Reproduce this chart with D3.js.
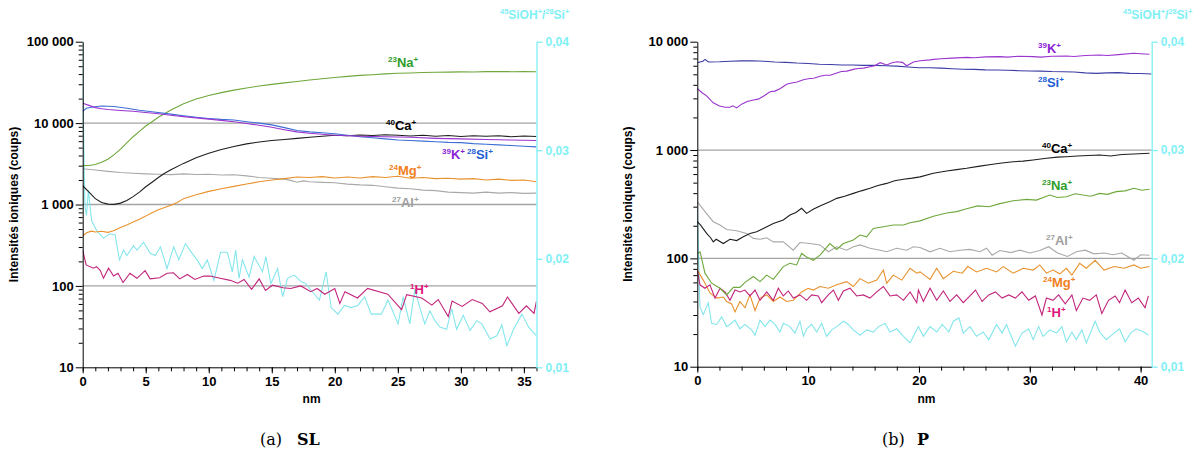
<!DOCTYPE html>
<html><head><meta charset="utf-8">
<script src="https://cdn.jsdelivr.net/npm/d3@7"></script>
<style>body{margin:0;background:#fff}svg{display:block}</style>
</head><body><svg id="c" width="1203" height="450" font-family="Liberation Sans, Arial, sans-serif"></svg>
<script>
// ---------- DATA : (a) SL ----------
const slNa = [[0,3000],[0.5,3020],[1,3100],[1.5,3300],[2,3600],[2.5,4100],[3,4800],[3.5,5700],[4,6800],[4.5,7900],[5,9200],[5.5,10400],[6,11800],[7,14500],[8,17300],[9,19800],[10,21800],[11,23700],[12,25400],[13,27000],[14,28600],[15,29900],[16,31200],[17,32500],[18,33800],[19,35000],[20,36300],[21,37500],[22,38600],[23,39300],[24,40200],[25,40900],[26,41300],[27,41800],[28,42100],[29,42300],[30,42600],[31,42500],[32,42900],[33,43100],[34,42800],[35,43000],[36,42800]];
const slCa = [[0,1700],[0.5,1420],[1,1180],[1.5,1060],[2,1010],[2.5,1005],[3,1040],[3.5,1120],[4,1250],[4.5,1420],[5,1650],[5.5,1880],[6,2150],[6.5,2420],[7,2680],[8,3200],[9,3750],[10,4250],[11,4750],[12,5150],[13,5550],[14,5850],[15,6100],[16,6300],[17,6500],[18,6700],[19,6900],[20,7100],[21,7000],[22,7150],[23,7050],[24,7200],[25,7100],[26,6950],[27,7100],[28,6900],[29,7050],[30,6850],[31,7000],[32,6900],[33,7000],[34,6800],[35,6950],[36,6850]];
const slK = [[0,17500],[0.5,16500],[1,15500],[1.5,15000],[2,14700],[3,14300],[4,14000],[5,13500],[6,13000],[7,12500],[8,12000],[9,11600],[10,11200],[11,10800],[12,10400],[13,9900],[14,9400],[15,8900],[16,8300],[17,7800],[18,7500],[19,7300],[20,7100],[22,6900],[24,6800],[26,6700],[28,6500],[30,6400],[32,6300],[34,6200],[36,6100]];
const slSi = [[0,14000],[0.3,15200],[0.8,15800],[1.5,16200],[2.5,16000],[3.5,15200],[4.5,14400],[5.5,13800],[7,12900],[8,12300],[9,11800],[10,11400],[11,11100],[12,10900],[13,10400],[14,10000],[15,9500],[16,8800],[17,8100],[18,7800],[19,7600],[20,7400],[21,7100],[22,6800],[23,6600],[24,6400],[25,6200],[26,6100],[27,6000],[28,5900],[29,5800],[30,5750],[31,5600],[32,5500],[33,5400],[34,5300],[35,5200],[36,5100]];
const slMg = [[0,410],[0.3,450],[0.7,470],[1,460],[1.5,470],[2,455],[2.5,480],[3,520],[3.5,560],[4,610],[4.5,660],[5,720],[5.5,790],[6,860],[6.5,920],[7,980],[7.5,1060],[8,1180],[9,1320],[10,1450],[11,1560],[12,1670],[13,1790],[14,1900],[15,2000],[16,2080],[17,2180],[18,2150],[19,2200],[20,2120],[21,2180],[22,2120],[23,2200],[24,2150],[25,2220],[26,2100],[27,2150],[28,2080],[29,2100],[30,2050],[31,2080],[32,2000],[33,2050],[34,1980],[35,2000],[36,1900]];
const slAl = [[0,2750],[1,2650],[2,2550],[3,2470],[4,2420],[5,2380],[6,2350],[7,2330],[8,2380],[9,2340],[10,2350],[11,2300],[12,2320],[13,2250],[14,2150],[15,2100],[16,2050],[16.5,1980],[17,1880],[17.5,1950],[18,1900],[19,1870],[20,1850],[21,1780],[22,1740],[23,1720],[24,1650],[25,1590],[26,1560],[27,1500],[28,1480],[29,1420],[30,1400],[31,1380],[32,1420],[33,1380],[34,1400],[35,1370],[36,1380]];
const slH = [[0,275],[0.27,181],[0.85,165],[1.1,172],[1.4,154],[1.65,124],[2.05,165],[2.45,132],[2.8,143],[3.2,110],[3.75,143],[4.3,124],[4.95,154],[5.35,122],[6.1,126],[6.7,143],[7.2,145],[7.7,122],[8.3,138],[8.9,120],[9.6,132],[10.1,132],[10.9,124],[11.7,117],[12.3,108],[12.8,120],[13.4,91],[14,122],[14.5,88],[15.05,102],[15.9,95],[16.5,93],[17.3,100],[18.1,85],[18.6,93],[19.2,79],[20.0,93],[20.4,61],[20.8,85],[21.8,71],[22.6,93],[24.2,79],[25.3,51],[25.7,78],[26.9,71],[27.7,58],[28.2,68],[29.0,42],[29.3,65],[30.1,56],[30.9,68],[31.7,61],[32.3,48],[33.3,57],[33.7,73],[34.6,46],[35.2,57],[35.8,46],[36.0,65]];
const slRatio = [[0,0.0400],[0.05,0.0330],[0.18,0.0248],[0.3,0.0240],[0.45,0.0263],[0.71,0.0235],[1.11,0.0226],[1.64,0.0219],[2.17,0.0223],[2.57,0.0222],[2.92,0.0199],[3.24,0.0208],[3.5,0.0203],[4.03,0.0212],[4.3,0.0208],[4.83,0.0215],[5.36,0.0205],[5.76,0.0203],[6.16,0.0211],[6.69,0.0191],[7.22,0.0211],[7.62,0.0199],[8.15,0.0214],[8.68,0.0205],[9.08,0.0199],[9.48,0.0191],[9.88,0.0199],[10.41,0.0180],[10.94,0.0206],[11.47,0.0206],[11.87,0.0188],[12.14,0.0208],[12.4,0.0182],[12.67,0.0199],[13.2,0.0183],[13.6,0.0202],[14.26,0.0188],[14.53,0.0202],[14.93,0.0177],[15.46,0.0191],[15.86,0.0165],[16.25,0.0182],[16.78,0.0185],[17.32,0.0179],[17.71,0.0177],[18.11,0.0171],[18.78,0.0162],[19.31,0.0188],[19.71,0.0155],[20.24,0.0149],[20.77,0.0157],[21.3,0.0155],[21.83,0.0157],[22.36,0.0165],[22.89,0.0149],[23.69,0.0149],[24.22,0.0162],[25.02,0.0140],[25.42,0.0165],[25.95,0.0140],[26.35,0.0172],[26.74,0.0155],[27.14,0.0140],[27.54,0.0152],[27.94,0.0143],[28.34,0.0137],[28.87,0.0135],[29.27,0.0154],[29.66,0.0135],[30.19,0.0148],[30.73,0.0134],[31.26,0.0143],[31.66,0.0140],[32.32,0.0126],[32.85,0.0129],[33.25,0.0139],[33.65,0.0120],[34.18,0.0135],[34.84,0.0149],[35.38,0.0137],[36.0,0.0129]];

// ---------- DATA : (b) P ----------
const pSi = [[0,6400],[0.5,6600],[0.7,6870],[1,6500],[2,6530],[3,6600],[4,6650],[5,6680],[6,6600],[7,6500],[8,6450],[9,6350],[10,6300],[11,6190],[12,6150],[13,6100],[14,6100],[15,6050],[16,6050],[17,6000],[18,5950],[19,5850],[20,5750],[21,5750],[22,5700],[23,5620],[24,5560],[25,5550],[26,5500],[27,5480],[28,5450],[29,5400],[30,5360],[31,5350],[32,5300],[33,5280],[34,5250],[35,5150],[36,5100],[37,5150],[38,5180],[39,5100],[40,5080],[41,5030]];
const pK = [[0,3700],[0.4,3400],[0.84,3160],[1.44,2730],[2,2550],[2.5,2480],[2.95,2480],[3.2,2560],[3.55,2450],[4,2650],[4.5,2800],[5.06,2900],[5.5,2950],[6,3150],[6.56,3450],[7,3500],[7.5,3700],[8.06,4050],[8.5,4150],[9,4250],[9.57,4450],[10,4550],[10.5,4600],[11.07,4800],[11.5,4900],[12,4900],[12.58,5150],[13,5300],[13.5,5350],[14.08,5550],[14.5,5650],[15,5700],[15.58,5880],[16,6000],[16.5,6400],[17.09,6100],[17.5,6350],[18,6530],[18.5,6450],[18.9,6000],[19.5,6500],[20.1,6680],[21,6800],[21.3,6870],[22,6950],[23,7050],[24.3,7170],[25,7100],[26,7250],[27.3,7280],[28,7200],[29,7350],[30.3,7280],[31,7200],[32,7350],[33.3,7380],[34,7300],[35,7450],[36.3,7540],[37,7450],[38,7600],[39.4,7820],[40,7750],[40.8,7650]];
const pCa = [[0,218],[0.3,203],[0.84,170],[1.2,155],[1.44,142],[1.7,150],[2.35,137],[2.95,150],[3.55,146],[4.15,158],[4.75,170],[5.36,176],[5.96,189],[6.86,210],[7.76,226],[8.36,251],[8.9,265],[9.41,290],[9.86,260],[10.5,285],[11.07,305],[12,335],[12.58,358],[13.3,375],[14.08,398],[14.8,420],[15.58,443],[16.3,470],[17.09,492],[17.8,520],[18.6,537],[19.4,550],[20.1,565],[21.3,610],[22.5,640],[23.4,660],[24.3,678],[25.5,710],[26.5,735],[27.3,754],[28.5,780],[29.4,790],[30.3,809],[31.5,840],[32.5,860],[33.3,867],[34.3,880],[35.3,890],[36.3,900],[37.3,880],[38.3,910],[39.4,918],[40.8,935]];
const pNa = [[0,111],[0.25,115],[0.69,73],[1.29,59],[2.05,53],[2.65,46],[3.25,54],[3.85,54],[4.3,60],[5.06,68],[5.66,61],[6.26,70],[6.86,64],[7.76,84],[8.36,90],[8.96,87],[9.41,111],[9.86,103],[10.47,96],[11.07,107],[11.97,137],[12.58,121],[13.18,137],[14.08,148],[14.68,164],[15.28,158],[15.88,189],[16.79,196],[17.69,203],[18.6,203],[19.2,213],[20.1,222],[21.3,245],[22.5,262],[23.4,270],[24.3,287],[25.3,305],[26.3,300],[27.3,320],[28.5,340],[29.7,350],[30.6,345],[31.8,384],[32.5,365],[33.3,370],[34.1,395],[34.8,384],[35.5,375],[36.3,398],[37.0,390],[37.8,413],[38.6,420],[39.4,443],[40.1,425],[40.8,435]];
const pAl = [[0,333],[0.35,300],[0.84,259],[1.44,218],[2.05,203],[2.65,185],[3.55,180],[4.45,170],[5.06,153],[5.66,150],[6.26,155],[6.86,142],[7.76,142],[8.66,119],[9.26,140],[10.17,137],[11.07,133],[11.82,115],[12.58,128],[13.48,119],[14.08,128],[14.68,133],[15.58,124],[16.49,119],[17.09,115],[17.99,124],[18.9,119],[19.5,128],[20.1,126],[21,115],[21.9,124],[22.8,115],[23.7,119],[24.6,121],[25.5,115],[26.1,124],[26.6,107],[27.3,118],[28.3,113],[29.1,119],[30.0,112],[30.9,118],[31.7,128],[32.5,112],[33.4,104],[34.2,115],[35.0,119],[35.8,110],[36.7,112],[37.5,108],[38.3,112],[39.4,96],[40.0,108],[40.8,107]];
const pMg = [[0,78],[0.54,63],[1.14,48],[1.74,43],[2.35,44],[2.65,40],[3.1,38],[3.4,32],[3.85,40],[4.3,35],[4.75,46],[5.21,33],[5.66,43],[6.26,46],[6.86,40],[7.46,44],[8.06,40],[8.66,41],[9.41,49],[10.0,53],[10.47,51],[11.07,55],[11.82,53],[12.58,57],[13.48,61],[14.08,55],[14.68,65],[15.43,59],[16.19,63],[16.79,78],[17.09,59],[17.69,70],[18.45,63],[19.2,81],[19.8,73],[20.1,75],[21.0,64],[21.6,81],[22.2,65],[23.1,76],[23.9,73],[24.4,84],[25.2,75],[26.1,81],[27.0,75],[27.6,84],[28.5,73],[29.4,81],[30.3,78],[30.9,87],[31.5,73],[32.1,78],[32.7,72],[33.3,81],[33.8,70],[34.5,90],[35.1,81],[35.9,96],[36.7,78],[37.6,84],[38.5,81],[39.4,87],[40.0,81],[40.8,84]];
const pH = [[0,78],[0.24,57],[0.69,53],[1.14,57],[1.6,43],[2.05,53],[2.5,49],[2.95,41],[3.4,51],[3.85,49],[4.3,51],[4.75,45],[5.21,51],[5.66,41],[6.26,49],[6.86,41],[7.31,53],[7.76,45],[8.21,50],[8.66,43],[9.26,46],[9.87,41],[10.32,46],[10.92,45],[11.22,39],[11.82,46],[12.28,51],[12.73,41],[13.18,50],[13.78,53],[14.38,45],[14.98,46],[15.58,43],[16.19,49],[16.79,55],[17.39,45],[17.99,46],[18.6,41],[19.2,49],[19.8,39],[19.95,51],[20.4,40],[21.0,53],[21.6,41],[22.2,50],[22.8,40],[23.4,46],[24.0,39],[24.6,45],[25.1,51],[25.7,40],[26.3,46],[26.9,49],[27.5,43],[28.1,46],[28.7,43],[29.3,49],[29.9,41],[30.5,45],[31.1,30],[31.5,43],[32.1,41],[32.6,46],[33.2,38],[33.8,46],[34.2,33],[34.8,43],[35.4,41],[36.0,46],[36.5,31],[37.1,41],[37.7,45],[38.1,39],[38.6,51],[39.2,39],[39.8,43],[40.4,35],[40.7,45]];
const pRatio = [[0,0.0249],[0.24,0.0155],[0.54,0.0148],[0.99,0.0159],[1.29,0.0140],[1.74,0.0139],[2.2,0.0146],[2.65,0.0137],[2.95,0.0139],[3.4,0.0143],[3.85,0.0135],[4.3,0.0139],[4.9,0.0134],[5.21,0.0129],[5.66,0.0143],[6.11,0.0137],[6.56,0.0143],[7.01,0.0139],[7.46,0.0132],[7.76,0.0140],[8.36,0.0137],[8.81,0.0131],[9.26,0.0142],[9.57,0.0128],[9.87,0.0135],[10.32,0.0139],[10.77,0.0132],[11.22,0.0140],[11.67,0.0128],[12.13,0.0134],[12.58,0.0137],[13.18,0.0142],[13.63,0.0139],[14.08,0.0134],[14.68,0.0129],[15.28,0.0134],[15.88,0.0132],[16.34,0.0137],[16.94,0.0140],[17.39,0.0132],[17.99,0.0135],[18.6,0.0128],[19.2,0.0122],[19.65,0.0131],[19.95,0.0137],[20.4,0.0128],[21.0,0.0137],[21.6,0.0132],[22.1,0.0139],[22.7,0.0132],[23.1,0.0142],[23.6,0.0145],[24.0,0.0131],[24.6,0.0137],[25.2,0.0128],[25.8,0.0132],[26.3,0.0125],[27.0,0.0139],[27.5,0.0131],[27.9,0.0139],[28.7,0.0119],[29.3,0.0131],[29.9,0.0135],[30.3,0.0125],[30.8,0.0137],[31.2,0.0128],[31.8,0.0134],[32.4,0.0131],[32.9,0.0137],[33.3,0.0123],[33.8,0.0132],[34.2,0.0125],[34.7,0.0134],[35.1,0.0122],[35.9,0.0142],[36.3,0.0132],[36.9,0.0125],[37.6,0.0131],[38.1,0.0135],[38.6,0.0123],[39.1,0.0131],[39.6,0.0135],[40.3,0.0132],[40.7,0.0129]];

// ---------- TICKS ----------
const slYTicks = [10,100,1000,10000,100000];
const pYTicks = [10,100,1000,10000];
const slXTicks = [0,5,10,15,20,25,30,35];
const pXTicks = [0,10,20,30,40];
const ratioTicks = [0.01,0.02,0.03,0.04];
const yTitle = "Intensités ioniques (coups)";

const C = {Na:"#6fa83c",Ca:"#1e1e1e",K:"#9a35cf",Si:"#3d6fd6",Si2:"#3c3ca6",Mg:"#e8922e",Al:"#a9a9a9",H:"#c2257c",R:"#84e6ec"};
const L = {Na:"#2f9e2a",Ca:"#000",K:"#8a1fd6",Si:"#1f5fd6",Mg:"#f07f1c",Al:"#a0a0a0",H:"#e0157c",R:"#7ff0f5"};
const SANS = "Liberation Sans, Arial, sans-serif";
const SERIF = "DejaVu Serif, Liberation Serif, serif";

const svg = d3.select("#c");
svg.append("rect").attr("width",1203).attr("height",450).attr("fill","#fff");

function supText(g,x,y,parts,color,size,anchor){
  const t=g.append("text").attr("x",x).attr("y",y).attr("fill",color).attr("font-weight","bold").attr("font-size",size).attr("font-family",SANS).attr("text-anchor",anchor||"start");
  let shifted=false;
  parts.forEach(([s,sup])=>{
    const ts=t.append("tspan").text(s);
    if(sup){ts.attr("font-size",size*0.62); if(!shifted){ts.attr("dy",-size*0.4);shifted=true;}}
    else { if(shifted){ts.attr("dy",size*0.4);shifted=false;} }
  });
  return t;
}
const fmtInt = v => d3.format(",")(v).replace(/,/g," ");
const fmtRatio = v => d3.format(".2f")(v).replace(".",",");

function drawChart(cfg, id){
  const g = svg.append("g");
  const x = d3.scaleLinear().domain([0,cfg.xMax]).range([cfg.l,cfg.r]);
  const y = d3.scaleLog().domain([cfg.yTicks[0],cfg.yTicks[cfg.yTicks.length-1]]).range([cfg.b,cfg.t]);
  const y2 = d3.scaleLinear().domain([0.01,0.04]).range([cfg.b,cfg.t]);
  g.append("clipPath").attr("id",id).append("rect").attr("x",cfg.l).attr("y",cfg.t-1).attr("width",cfg.r-cfg.l).attr("height",cfg.b-cfg.t+1);
  cfg.grid.forEach(v=>g.append("line").attr("x1",cfg.l).attr("x2",cfg.r).attr("y1",y(v)).attr("y2",y(v)).attr("stroke","#a3a3a3").attr("stroke-width",1.3));
  const lines = g.append("g").attr("clip-path",`url(#${id})`);
  const ln = d3.line().x(d=>x(d[0])).y(d=>y(d[1]));
  const ln2 = d3.line().x(d=>x(d[0])).y(d=>y2(d[1]));
  lines.append("path").attr("d",ln2(cfg.ratio)).attr("fill","none").attr("stroke",C.R).attr("stroke-width",1.1);
  cfg.series.forEach(s=>lines.append("path").attr("d",ln(s.data)).attr("fill","none").attr("stroke",s.color).attr("stroke-width",1.1));
  const minorY=[]; for(let d=cfg.yTicks[0]; d<cfg.yTicks[cfg.yTicks.length-1]; d*=10) for(let k=2;k<10;k++) minorY.push(d*k);
  const ax = (sel)=>sel.attr("font-family",SANS).selectAll("text").attr("font-weight","bold");
  g.append("g").attr("transform",`translate(${cfg.l},0)`).call(d3.axisLeft(y).tickValues(minorY).tickSize(4).tickSizeOuter(0).tickFormat("")).call(s=>s.select(".domain").remove());
  g.append("g").attr("transform",`translate(${cfg.l},0)`).call(d3.axisLeft(y).tickValues(cfg.yTicks).tickSize(7).tickSizeOuter(0).tickPadding(2).tickFormat(fmtInt)).attr("font-size",13).call(ax);
  const minorX=[]; for(let v=0; v<=cfg.xMax+1e-9; v+=cfg.xMinor) minorX.push(v);
  g.append("g").attr("transform",`translate(0,${cfg.b})`).call(d3.axisBottom(x).tickValues(minorX).tickSize(4).tickSizeOuter(0).tickFormat("")).call(s=>s.select(".domain").remove());
  g.append("g").attr("transform",`translate(0,${cfg.b})`).call(d3.axisBottom(x).tickValues(cfg.xTicks).tickSize(6).tickSizeOuter(0).tickPadding(3)).attr("font-size",13).call(ax);
  const minorR=[]; for(let v=0.01; v<=0.0401; v+=0.002) minorR.push(+v.toFixed(3));
  const ra = g.append("g").attr("transform",`translate(${cfg.r},0)`);
  ra.call(d3.axisRight(y2).tickValues(minorR).tickSize(4).tickSizeOuter(0).tickFormat(""));
  ra.call(d3.axisRight(y2).tickValues(ratioTicks).tickSize(6).tickSizeOuter(0).tickPadding(3).tickFormat(fmtRatio)).attr("font-size",12).call(ax);
  ra.selectAll("line,path").attr("stroke",L.R).attr("stroke-width",1.3);
  ra.selectAll("text").attr("fill",L.R);
  g.append("text").attr("transform",`translate(${cfg.titleX},${(cfg.t+cfg.b)/2}) rotate(-90)`).attr("text-anchor","middle").attr("font-family",SANS).attr("font-weight","bold").attr("font-size",12).text(yTitle);
  g.append("text").attr("x",(cfg.l+cfg.r)/2+2).attr("y",403).attr("text-anchor","middle").attr("font-family",SANS).attr("font-weight","bold").attr("font-size",12).text("nm");
  supText(g,cfg.ratioTitleX,19,[["45",1],["SiOH",0],["+",1],["/",0],["28",1],["Si",0],["+",1]],L.R,12);
  cfg.labels.forEach(lb=>supText(g,lb.x,lb.y,[[lb.iso,1],[lb.el,0],["+",1]],lb.c,13));
  g.append("text").attr("x",cfg.cap[0]).attr("y",445).attr("font-family",SERIF).attr("font-size",16).text(cfg.cap[2]);
  g.append("text").attr("x",cfg.cap[1]).attr("y",445).attr("font-family",SERIF).attr("font-weight","bold").attr("font-size",16).text(cfg.cap[3]);
}

drawChart({l:82.7,r:536.5,t:41.7,b:367.3,xMax:36,xTicks:slXTicks,xMinor:1,yTicks:slYTicks,grid:[100,1000,10000],
  ratio:slRatio, titleX:18, ratioTitleX:500, cap:[260,297,"(a)","SL"],
  series:[{data:slAl,color:C.Al},{data:slMg,color:C.Mg},{data:slH,color:C.H},{data:slNa,color:C.Na},{data:slCa,color:C.Ca},{data:slSi,color:C.Si},{data:slK,color:C.K}],
  labels:[{x:388,y:67,iso:"23",el:"Na",c:L.Na},{x:386,y:130,iso:"40",el:"Ca",c:L.Ca},{x:442,y:159,iso:"39",el:"K",c:L.K},{x:467,y:159,iso:"28",el:"Si",c:L.Si},{x:389,y:175,iso:"24",el:"Mg",c:L.Mg},{x:392,y:207,iso:"27",el:"Al",c:L.Al},{x:410,y:294,iso:"1",el:"H",c:L.H}]
},"clipA");

drawChart({l:697.3,r:1151.7,t:41.7,b:366.7,xMax:41,xTicks:pXTicks,xMinor:2,yTicks:pYTicks,grid:[100,1000],
  ratio:pRatio, titleX:632, ratioTitleX:1123, cap:[882,917,"(b)","P"],
  series:[{data:pAl,color:C.Al},{data:pMg,color:C.Mg},{data:pH,color:C.H},{data:pNa,color:C.Na},{data:pCa,color:C.Ca},{data:pSi,color:C.Si2},{data:pK,color:C.K}],
  labels:[{x:1038,y:53,iso:"39",el:"K",c:L.K},{x:1038,y:87,iso:"28",el:"Si",c:L.Si},{x:1042,y:153,iso:"40",el:"Ca",c:L.Ca},{x:1042,y:190,iso:"23",el:"Na",c:L.Na},{x:1046,y:245,iso:"27",el:"Al",c:L.Al},{x:1043,y:287,iso:"24",el:"Mg",c:L.Mg},{x:1047,y:317,iso:"1",el:"H",c:L.H}]
},"clipB");
</script></body></html>
